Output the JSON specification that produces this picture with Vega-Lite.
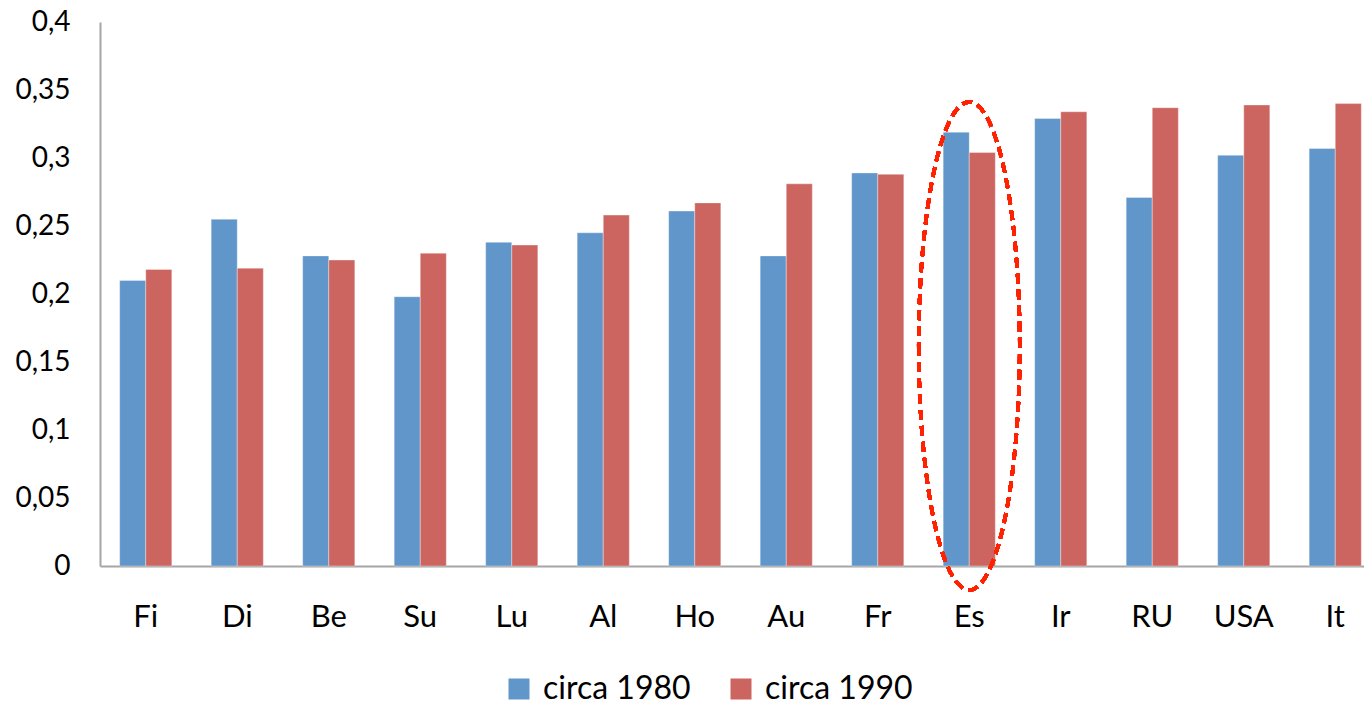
{
  "$schema": "https://vega.github.io/schema/vega-lite/v6.json",
  "width": 1281,
  "height": 544,
  "autosize": {"type": "none"},
  "padding": {"left": 100, "top": 22, "right": 0, "bottom": 139},
  "background": "white",
  "config": {
    "view": {"stroke": null},
    "font": "Lato",
    "axis": {"labelFont": "Lato", "labelColor": "#000000"},
    "legend": {"labelFont": "Lato"}
  },
  "data": {
    "values": [
      {"country": "Fi", "serie": "circa 1980", "value": 0.210},
      {"country": "Fi", "serie": "circa 1990", "value": 0.218},
      {"country": "Di", "serie": "circa 1980", "value": 0.255},
      {"country": "Di", "serie": "circa 1990", "value": 0.219},
      {"country": "Be", "serie": "circa 1980", "value": 0.228},
      {"country": "Be", "serie": "circa 1990", "value": 0.225},
      {"country": "Su", "serie": "circa 1980", "value": 0.198},
      {"country": "Su", "serie": "circa 1990", "value": 0.230},
      {"country": "Lu", "serie": "circa 1980", "value": 0.238},
      {"country": "Lu", "serie": "circa 1990", "value": 0.236},
      {"country": "Al", "serie": "circa 1980", "value": 0.245},
      {"country": "Al", "serie": "circa 1990", "value": 0.258},
      {"country": "Ho", "serie": "circa 1980", "value": 0.261},
      {"country": "Ho", "serie": "circa 1990", "value": 0.267},
      {"country": "Au", "serie": "circa 1980", "value": 0.228},
      {"country": "Au", "serie": "circa 1990", "value": 0.281},
      {"country": "Fr", "serie": "circa 1980", "value": 0.289},
      {"country": "Fr", "serie": "circa 1990", "value": 0.288},
      {"country": "Es", "serie": "circa 1980", "value": 0.319},
      {"country": "Es", "serie": "circa 1990", "value": 0.304},
      {"country": "Ir", "serie": "circa 1980", "value": 0.329},
      {"country": "Ir", "serie": "circa 1990", "value": 0.334},
      {"country": "RU", "serie": "circa 1980", "value": 0.271},
      {"country": "RU", "serie": "circa 1990", "value": 0.337},
      {"country": "USA", "serie": "circa 1980", "value": 0.302},
      {"country": "USA", "serie": "circa 1990", "value": 0.339},
      {"country": "It", "serie": "circa 1980", "value": 0.307},
      {"country": "It", "serie": "circa 1990", "value": 0.340}
    ]
  },
  "layer": [
    {
      "mark": {"type": "bar", "stroke": "#ffffff", "strokeOpacity": 0.35, "strokeWidth": 1},
      "encoding": {
        "x": {
          "field": "country",
          "type": "nominal",
          "sort": null,
          "scale": {"paddingInner": 0.43, "paddingOuter": 0.215},
          "axis": {
            "title": null,
            "labelAngle": 0,
            "labelFontSize": 31,
            "labelPadding": 36,
            "ticks": false,
            "domainColor": "#A6A6A6",
            "domainWidth": 2
          }
        },
        "xOffset": {"field": "serie", "type": "nominal"},
        "y": {
          "field": "value",
          "type": "quantitative",
          "scale": {"domain": [0, 0.4], "nice": false},
          "axis": {
            "title": null,
            "values": [0, 0.05, 0.1, 0.15, 0.2, 0.25, 0.3, 0.35, 0.4],
            "labelExpr": "replace(format(datum.value, '.2~f'), '.', ',')",
            "labelFontSize": 28,
            "labelPadding": 30,
            "ticks": false,
            "grid": false,
            "domainColor": "#A6A6A6",
            "domainWidth": 2
          }
        },
        "color": {
          "field": "serie",
          "type": "nominal",
          "scale": {"domain": ["circa 1980", "circa 1990"], "range": ["#6096C9", "#CC6560"]},
          "legend": {
            "title": null,
            "orient": "none",
            "direction": "horizontal",
            "legendX": 403,
            "legendY": 651,
            "symbolType": "square",
            "symbolSize": 441,
            "symbolStrokeWidth": 0,
            "labelFontSize": 32,
            "labelOffset": 8,
            "columnPadding": 34,
            "labelColor": "#000000"
          }
        }
      }
    },
    {
      "mark": {
        "type": "point",
        "shape": "M -0.207 0 A 0.207 1 0 1 0 0.207 0 A 0.207 1 0 1 0 -0.207 0 Z",
        "filled": false,
        "stroke": "#FF2200",
        "strokeWidth": 3.5,
        "strokeDash": [10, 6],
        "size": 238144,
        "opacity": 1
      },
      "encoding": {
        "x": {"datum": "Es"},
        "y": {"datum": 0.1618}
      }
    }
  ]
}
